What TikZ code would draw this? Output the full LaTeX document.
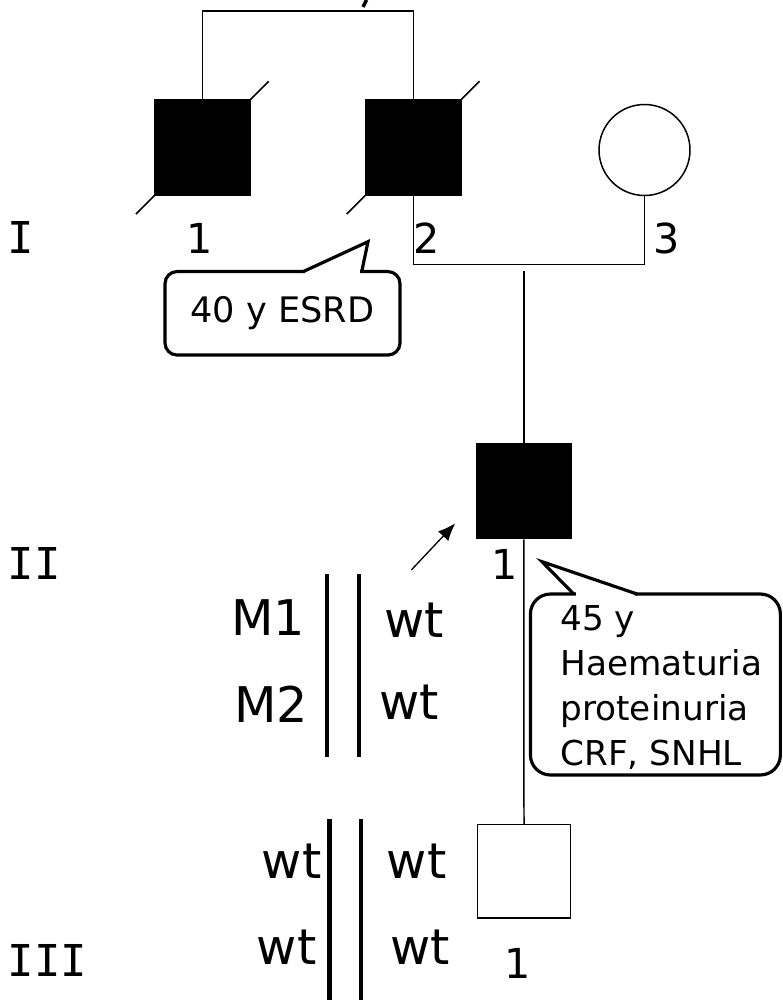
\documentclass[tikz,border=0pt]{standalone}
\usepackage{fontspec}
\setmainfont{DejaVu Sans}
\newfontfamily\genfont{DejaVu Sans Mono}
\usetikzlibrary{arrows.meta}
\begin{document}
\begin{tikzpicture}[x=0.02cm, y=-0.02cm, line width=0.85pt,
  male/.style={draw, rectangle, minimum size=1.9cm, inner sep=0pt},
  affected/.style={male, fill=black},
  female/.style={draw, circle, minimum size=1.82cm, inner sep=0pt},
  num/.style={inner sep=0pt, font=\fontsize{23.5}{28}\selectfont},
  gen/.style={inner sep=0pt, anchor=west, font=\genfont\fontsize{25}{30}\selectfont},
  allele/.style={inner sep=0pt, font=\fontsize{28}{33}\selectfont},
  chrom/.style={line width=2.5pt},
  bubble/.style={draw, line width=1.8pt, inner sep=0pt},
  note/.style={inner sep=0pt, font=\fontsize{19.5}{25.5}\selectfont}]
\useasboundingbox (0,0) rectangle (782,1000);
\node[affected] (I1) at (202.5,147.5) {};
\node[affected] (I2) at (413.3,147.5) {};
\node[female] (I3) at (644.5,150) {};
\node[affected] (II1) at (523.8,491.2) {};
\node[male, minimum size=1.87cm] (III1) at (524,871.4) {};
\node[gen] (genI) at (7,237) {I};
\node[gen] (genII) at (7,563) {II};
\node[gen] (genIII) at (7,960) {III};
\node[num] (numI1) at (200,238) {1};
\node[num] (numI2) at (427,238) {2};
\node[num] (numI3) at (667,238) {3};
\node[num] (numII1) at (505,564) {1};
\node[num] (numIII1) at (518,963) {1};
\coordinate (sibtop) at (202.5,11);
\coordinate (sibII) at (523.8,271);
\coordinate (probtail) at (411.3,570);
\coordinate (probtip) at (455.3,523.3);
\draw (I1.north) -- (sibtop) -| (I2.north);
\draw[line width=2pt] (363,7) -- (366.5,0);
\draw (I1.south west) -- ++(-18.3,18.3);
\draw (I1.north east) -- ++(18,-18);
\draw (I2.south west) -- ++(-18.3,18.3);
\draw (I2.north east) -- ++(18,-18);
\draw (I2.south) -- ++(0,69) -| (I3.south);
\draw (sibII) -- (II1.north);
\draw (II1.south) -- (III1.north);
\draw[-{Latex[length=10pt,width=8pt]}, line width=0.75pt] (probtail) -- (probtip);
\node[bubble, note, font=\fontsize{20}{25.5}\selectfont, rounded corners=0.24cm, minimum width=4.7cm, minimum height=1.67cm] (esrd) at (282.5,313.3) {40 y ESRD};
\fill[white] (305,268.5) rectangle (360,275);
\draw[line width=1.8pt] (303,271.7) -- (368,241.7) -- (361.7,271.7);
\node[bubble, rounded corners=0.4cm, minimum width=5.0cm, minimum height=3.62cm] (clin) at (655.4,684.5) {};
\node[note, anchor=north west, align=left] (clintext) at (559.7,605) {45 y\\Haematuria\\proteinuria\\CRF, SNHL};
\fill[white] (576,590.5) rectangle (635,597.5);
\draw[line width=1.8pt] (573.7,594) -- (542,561.7) -- (637,594);
\node[allele, anchor=east] (m1) at (306,618) {M1};
\node[allele, anchor=east] (m2) at (309,704) {M2};
\node[allele] (wt1) at (414.5,620) {wt};
\node[allele] (wt2) at (409,702) {wt};
\node[allele] (wt3) at (291.7,861) {wt};
\node[allele] (wt4) at (286.7,947) {wt};
\node[allele] (wt5) at (416.7,861) {wt};
\node[allele] (wt6) at (420,947) {wt};
\draw[chrom] (327,574) -- (327,756.7);
\draw[chrom] (358.7,574) -- (358.7,756.7);
\draw[chrom] (329.3,819.3) -- (329.3,1000);
\draw[chrom] (361,819.3) -- (361,1000);
\end{tikzpicture}
\end{document}
